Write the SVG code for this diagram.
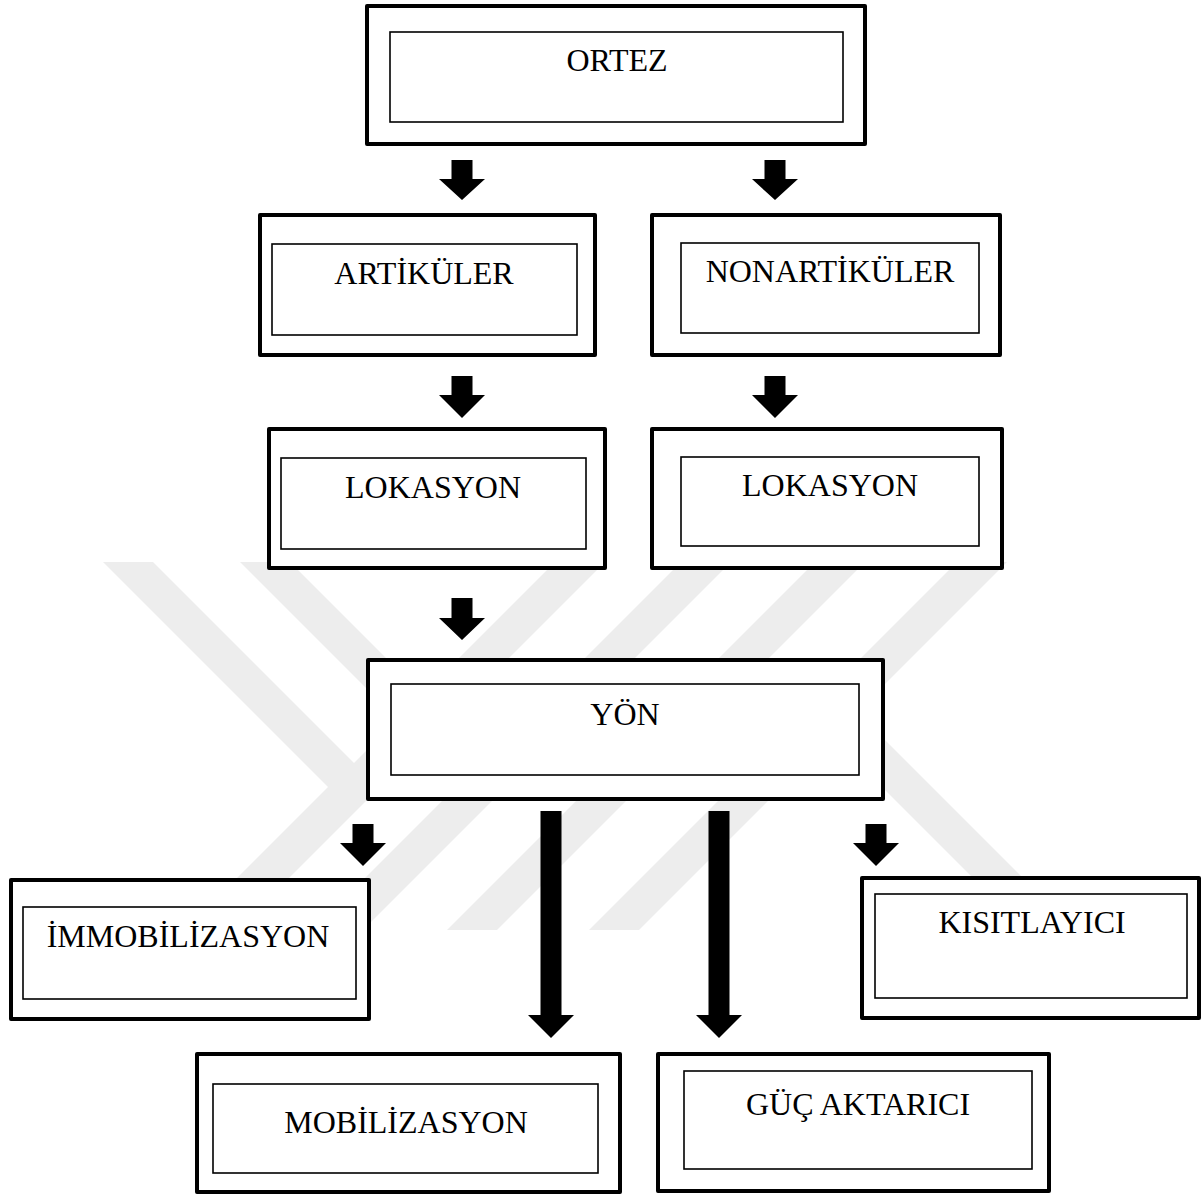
<svg xmlns="http://www.w3.org/2000/svg" width="1203" height="1196" viewBox="0 0 1203 1196">
<style>
.outer{fill:#fff;stroke:#000;stroke-width:4;stroke-linejoin:round}
.inner{fill:#fff;stroke:#000;stroke-width:1.6}
.lbl{font-family:"Liberation Serif","Times New Roman",serif;font-size:32px;fill:#000;text-anchor:middle}
.arr{fill:#000}
.wm{fill:#ededed}
</style>
<rect width="1203" height="1196" fill="#fff"/>
<g id="watermark">
<polygon class="wm" points="103,562 153,562 378,787 235,930 185,930 328,787"/>
<polygon class="wm" points="555,562 605,562 237,930 187,930"/>
<polygon class="wm" points="240,562 290,562 470,742 420,742"/>
<polygon class="wm" points="681,562 731,562 363,930 313,930"/>
<polygon class="wm" points="815,562 865,562 497,930 447,930"/>
<polygon class="wm" points="957,562 1007,562 639,930 589,930"/>
<polygon class="wm" points="795,700 845,700 1075,930 1025,930"/>
</g>
<g id="connectors">
<polygon class="arr" points="451.5,160 472.5,160 472.5,179 485,179 462,200 439,179 451.5,179"/>
<polygon class="arr" points="764.5,160 785.5,160 785.5,179 798,179 775,200 752,179 764.5,179"/>
<polygon class="arr" points="451.5,376 472.5,376 472.5,395 485,395 462,418 439,395 451.5,395"/>
<polygon class="arr" points="764.5,376 785.5,376 785.5,395 798,395 775,418 752,395 764.5,395"/>
<polygon class="arr" points="451.5,598 472.5,598 472.5,618 485,618 462,640 439,618 451.5,618"/>
<polygon class="arr" points="352.5,824 373.5,824 373.5,843 386,843 363,866 340,843 352.5,843"/>
<polygon class="arr" points="865.5,824 886.5,824 886.5,843 899,843 876,866 853,843 865.5,843"/>
<polygon class="arr" points="540.5,811 561.5,811 561.5,1015 574,1015 551,1038 528,1015 540.5,1015"/>
<polygon class="arr" points="708.5,811 729.5,811 729.5,1015 742,1015 719,1038 696,1015 708.5,1015"/>
</g>
<g id="node-ortez">
<rect class="outer" x="367" y="6" width="498" height="138"/>
<rect class="inner" x="390" y="32" width="453" height="90"/>
<text class="lbl" x="617" y="71">ORTEZ</text>
</g>
<g id="node-artikuler">
<rect class="outer" x="260" y="215" width="335" height="140"/>
<rect class="inner" x="272" y="244" width="305" height="91"/>
<text class="lbl" x="424" y="284">ARTİKÜLER</text>
</g>
<g id="node-nonartikuler">
<rect class="outer" x="652" y="215" width="348" height="140"/>
<rect class="inner" x="681" y="243" width="298" height="90"/>
<text class="lbl" x="830" y="282">NONARTİKÜLER</text>
</g>
<g id="node-lokasyon-1">
<rect class="outer" x="269" y="429" width="336" height="139"/>
<rect class="inner" x="281" y="458" width="305" height="91"/>
<text class="lbl" x="433" y="498">LOKASYON</text>
</g>
<g id="node-lokasyon-2">
<rect class="outer" x="652" y="429" width="350" height="139"/>
<rect class="inner" x="681" y="457" width="298" height="89"/>
<text class="lbl" x="830" y="496">LOKASYON</text>
</g>
<g id="node-yon">
<rect class="outer" x="368" y="660" width="515" height="139"/>
<rect class="inner" x="391" y="684" width="468" height="91"/>
<text class="lbl" x="625" y="725">YÖN</text>
</g>
<g id="node-immobilizasyon">
<rect class="outer" x="11" y="880" width="358" height="139"/>
<rect class="inner" x="23" y="907" width="333" height="92"/>
<text class="lbl" x="188" y="947">İMMOBİLİZASYON</text>
</g>
<g id="node-kisitlayici">
<rect class="outer" x="862" y="878" width="337" height="140"/>
<rect class="inner" x="875" y="894" width="312" height="104"/>
<text class="lbl" x="1032" y="933">KISITLAYICI</text>
</g>
<g id="node-mobilizasyon">
<rect class="outer" x="197" y="1054" width="423" height="138"/>
<rect class="inner" x="213" y="1084" width="385" height="89"/>
<text class="lbl" x="406" y="1133">MOBİLİZASYON</text>
</g>
<g id="node-guc-aktarici">
<rect class="outer" x="658" y="1054" width="391" height="137"/>
<rect class="inner" x="684" y="1071" width="348" height="98"/>
<text class="lbl" x="858" y="1115">GÜÇ AKTARICI</text>
</g>
</svg>
